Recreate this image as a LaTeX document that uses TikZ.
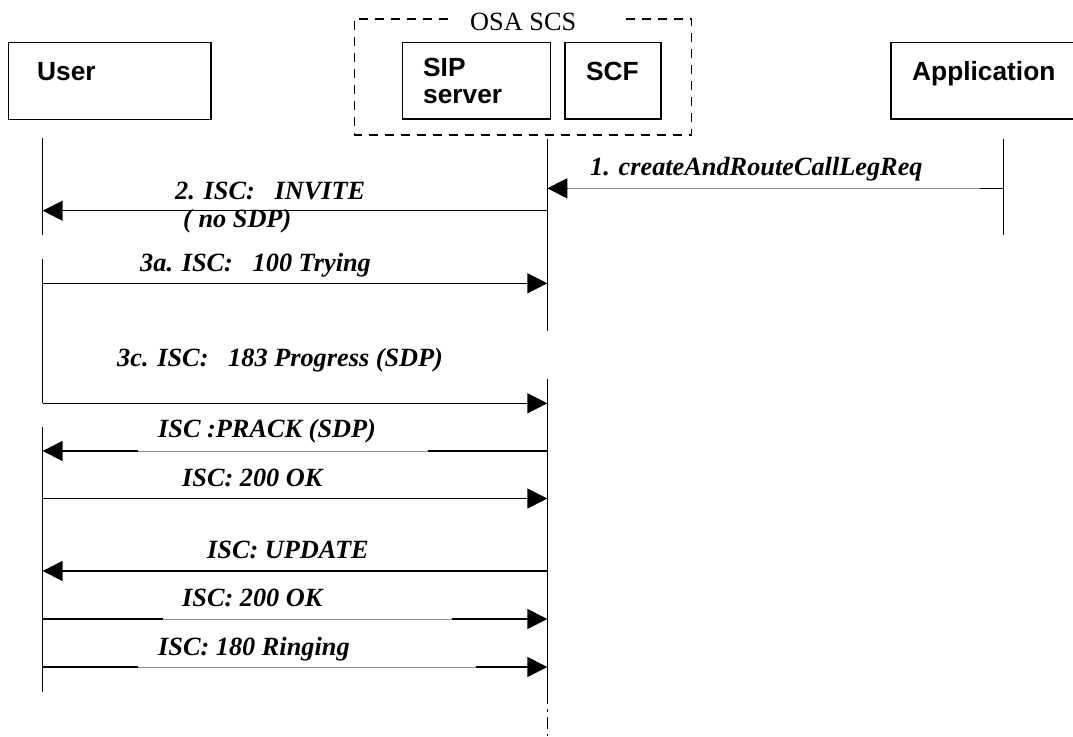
\documentclass[tikz,border=0pt]{standalone}
\usepackage{fontspec}
\setmainfont{Liberation Serif}
\newfontfamily\arialfont{Liberation Sans}
\usetikzlibrary{arrows.meta}
\begin{document}
\begin{tikzpicture}[x=1pt,y=-1pt,
  box/.style={draw, line width=1.4pt, rectangle, inner sep=0pt},
  boxlabel/.style={anchor=base west, inner sep=0pt, font=\arialfont\bfseries\fontsize{26.3}{30}\selectfont},
  grouplabel/.style={anchor=base west, inner sep=0pt, font=\fontsize{26.3}{30}\selectfont},
  msg/.style={anchor=base west, inner sep=0pt, font=\bfseries\itshape\fontsize{26.3}{30}\selectfont},
  life/.style={line width=1.5pt},
  arr/.style={line width=1.5pt, -{Triangle[length=20pt,width=20pt]}},
  cover/.style={line width=2.8pt, draw=white},
  faint/.style={line width=1pt, draw=black!45},
  grp/.style={line width=1.4pt, dash pattern=on 9pt off 7pt},
]
\useasboundingbox (0,0) rectangle (1073,736);
\clip (0,0) rectangle (1073,736);

% boxes
\node[box, minimum width=202.7pt, minimum height=77pt] (user) at (109.65,80.8) {};
\node[box, minimum width=148.4pt, minimum height=76.7pt] (sip) at (476.5,80.65) {};
\node[box, minimum width=96pt, minimum height=76.7pt] (scf) at (613,80.65) {};
\node[box, minimum width=200pt, minimum height=76.7pt] (app) at (991,80.65) {};

\node[boxlabel] (tuser) at (37,80) {User};
\node[boxlabel] (tsip) at (423,76.7) {SIP};
\node[boxlabel] (tserver) at (423,103) {server};
\node[boxlabel] (tscf) at (586,80) {SCF};
\node[boxlabel] (tapp) at (912,80) {Application};

% OSA SCS group
\draw[grp] (448,19) -- (354.3,19) -- (354.3,135) -- (691.7,135) -- (691.7,19) -- (620,19);
\node[grouplabel] (tosa) at (470,30) {OSA SCS};

% lifelines
\coordinate (uA1) at (42.7,138);   \coordinate (uA2) at (42.7,235);
\coordinate (uB1) at (42.7,259);   \coordinate (uB2) at (42.7,403.3);
\coordinate (uC1) at (42.7,427);   \coordinate (uC2) at (42.7,692);
\coordinate (sA1) at (547.3,139);  \coordinate (sA2) at (547.3,331);
\coordinate (sB1) at (547.3,379);  \coordinate (sB2) at (547.3,692);
\coordinate (sB3) at (547.3,736);
\coordinate (aA1) at (1003.3,139); \coordinate (aA2) at (1003.3,235);

\draw[life] (uA1) -- (uA2);
\draw[life] (uB1) -- (uB2);
\draw[life] (uC1) -- (uC2);
\draw[life] (sA1) -- (sA2);
\draw[life] (sB1) -- (sB2);
\draw[life, dash pattern=on 12pt off 5pt on 3pt off 5pt] (sB2) -- (sB3);
\draw[life] (aA1) -- (aA2);

% message end points
\coordinate (m1a) at (1003.3,188.3); \coordinate (m1s) at (547.3,188.3);
\coordinate (m2s) at (547.3,210.7);  \coordinate (m2u) at (42.7,210.7);
\coordinate (m3u) at (42.7,283.3);   \coordinate (m3s) at (547.3,283.3);
\coordinate (m4u) at (42.7,403.3);   \coordinate (m4s) at (547.3,403.3);
\coordinate (m5s) at (547.3,451);    \coordinate (m5u) at (42.7,451);
\coordinate (m6u) at (42.7,498.5);   \coordinate (m6s) at (547.3,498.5);
\coordinate (m7s) at (547.3,571);    \coordinate (m7u) at (42.7,571);
\coordinate (m8u) at (42.7,619);     \coordinate (m8s) at (547.3,619);
\coordinate (m9u) at (42.7,667);     \coordinate (m9s) at (547.3,667);

% messages
\draw[arr] (m1a) -- (m1s);
\draw[cover] (568,188.3) -- (980,188.3);
\draw[faint] (568,188.3) -- (980,188.3);
\draw[arr] (m2s) -- (m2u);
\draw[arr] (m3u) -- (m3s);
\draw[arr] (m4u) -- (m4s);
\draw[arr] (m5s) -- (m5u);
\draw[cover] (138,451) -- (428,451);
\draw[faint] (138,451) -- (428,451);
\draw[arr] (m6u) -- (m6s);
\draw[arr] (m7s) -- (m7u);
\draw[arr] (m8u) -- (m8s);
\draw[cover] (163,619) -- (452,619);
\draw[faint] (163,619) -- (452,619);
\draw[arr] (m9u) -- (m9s);
\draw[cover] (138,667) -- (476,667);
\draw[faint] (138,667) -- (476,667);

% labels
\node[msg] (l1) at (590,175) {1. createAndRouteCallLegReq};
\node[msg] (l2) at (175,199) {2. ISC:\ \ \ INVITE};
\node[msg] (l2b) at (183,227) {( no SDP)};
\node[msg] (l3) at (140,271) {3a. ISC:\ \ \ 100 Trying};
\node[msg] (l4) at (117,366.5) {3c. ISC:\ \ \ 183 Progress (SDP)};
\node[msg] (l5) at (158,437) {ISC :PRACK (SDP)};
\node[msg] (l6) at (182,486.5) {ISC: 200 OK};
\node[msg] (l7) at (207,558.5) {ISC: UPDATE};
\node[msg] (l8) at (182,606.5) {ISC: 200 OK};
\node[msg] (l9) at (158,655) {ISC: 180 Ringing};
\end{tikzpicture}
\end{document}
